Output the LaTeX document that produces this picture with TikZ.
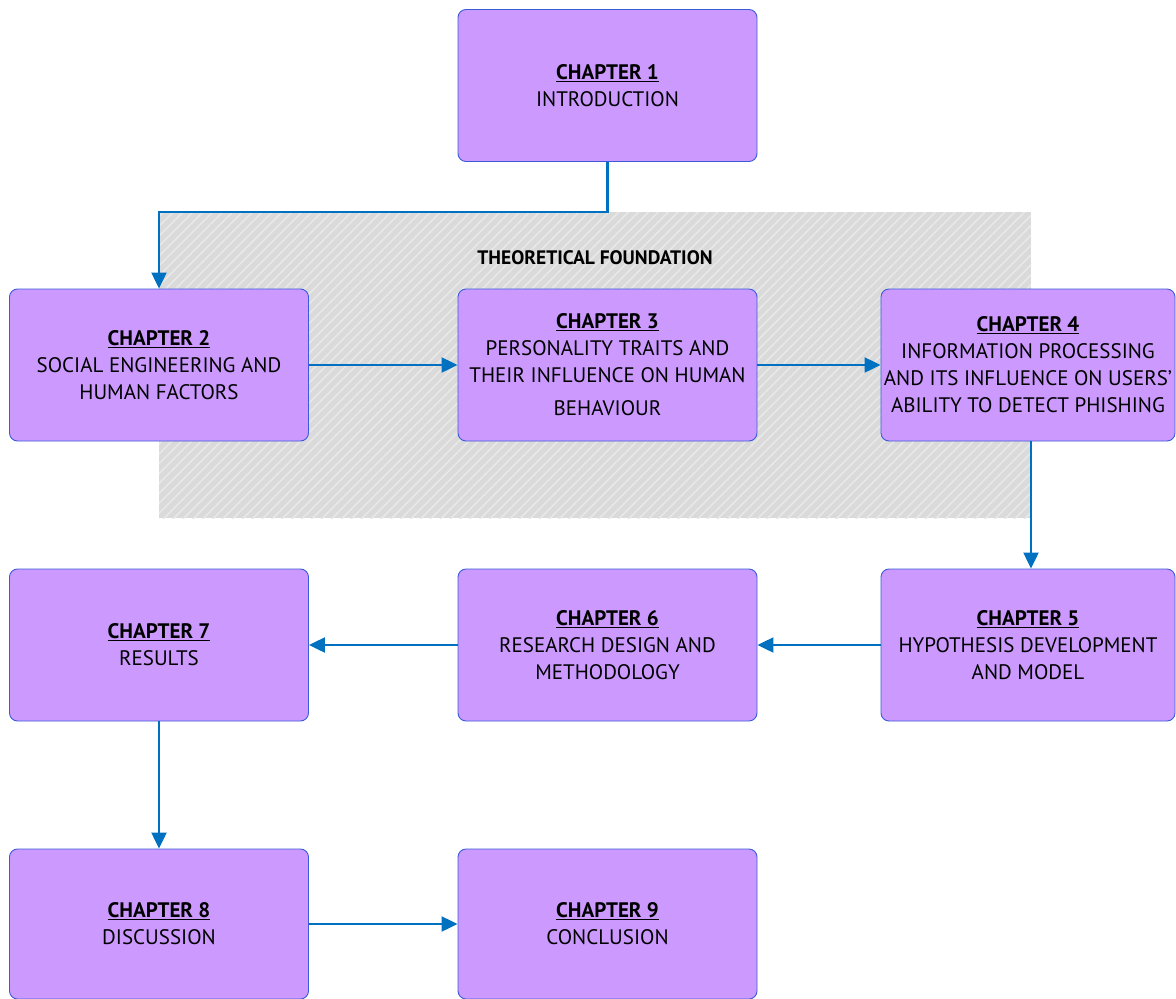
\documentclass[tikz,border=0pt]{standalone}
\usepackage{fontspec}
\setmainfont{PT Sans}
\usetikzlibrary{arrows.meta,patterns.meta}
\definecolor{boxfill}{HTML}{CC99FF}
\definecolor{boxline}{HTML}{3B5BDB}
\definecolor{flow}{HTML}{0070C0}
\definecolor{hatchbg}{HTML}{DADADA}
\definecolor{hatchln}{HTML}{E8E8E8}
\newcommand{\chap}[1]{\underline{\textbf{CHAPTER #1}}}
\tikzset{
  chapbox/.style={draw=boxline, line width=0.9pt, fill=boxfill, rounded corners=8pt,
    minimum width=299pt, minimum height=152pt, inner sep=0pt,
    align=center, font=\fontsize{21}{27}\selectfont, text=black},
  flowarrow/.style={draw=flow, line width=2.2pt,
    -{Triangle[length=16pt,width=15pt]}},
}
\begin{document}
\begin{tikzpicture}[x=1pt,y=-1pt]
\useasboundingbox (0,0) rectangle (1176,999);

% hatched band behind chapters 2-4
\fill[hatchbg] (159,212) rectangle (1031,518);
\fill[pattern={Lines[angle=45,distance=7pt,line width=1.6pt]}, pattern color=hatchln]
  (159,212) rectangle (1031,518);
\node[font=\bfseries\fontsize{19.5}{22}\selectfont] (theory) at (595,258) {THEORETICAL FOUNDATION};

% chapter boxes
\node[chapbox] (c1) at (607.5,85.5) {\chap{1}\\INTRODUCTION};
\node[chapbox] (c2) at (159,365) {\chap{2}\\SOCIAL ENGINEERING AND\\HUMAN FACTORS};
\node[chapbox] (c3) at (607.5,365) {\chap{3}\\PERSONALITY TRAITS AND\\THEIR INFLUENCE ON HUMAN\\[6pt]BEHAVIOUR};
\node[chapbox, minimum width=294pt] (c4) at (1028,365) {\chap{4}\\INFORMATION PROCESSING\\AND ITS INFLUENCE ON USERS'\\ABILITY TO DETECT PHISHING};
\node[chapbox, minimum width=294pt] (c5) at (1028,645) {\chap{5}\\HYPOTHESIS DEVELOPMENT\\AND MODEL};
\node[chapbox] (c6) at (607.5,645) {\chap{6}\\RESEARCH DESIGN AND\\METHODOLOGY};
\node[chapbox] (c7) at (159,645) {\chap{7}\\RESULTS};
\node[chapbox, minimum height=150pt] (c8) at (159,924) {\chap{8}\\DISCUSSION};
\node[chapbox, minimum height=150pt] (c9) at (607.5,924) {\chap{9}\\CONCLUSION};

% reading order
\coordinate (bend) at (159,212);
\draw[flowarrow] (c1.south) |- (bend) -- (c2.north);
\draw[flowarrow] (c2) -- (c3);
\draw[flowarrow] (c3) -- (c4);
\draw[flowarrow] (c4.south -| 1031,0) -- (c5.north -| 1031,0);
\draw[flowarrow] (c5) -- (c6);
\draw[flowarrow] (c6) -- (c7);
\draw[flowarrow] (c7) -- (c8);
\draw[flowarrow] (c8) -- (c9);
\end{tikzpicture}
\end{document}
